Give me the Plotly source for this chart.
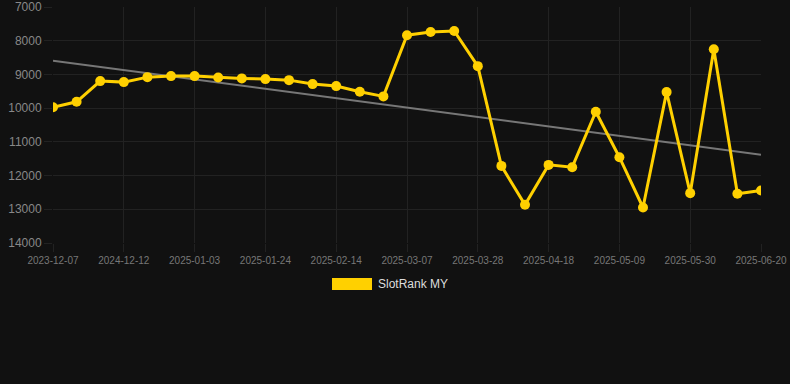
import numpy as np
import plotly.graph_objects as go

dates = ["2023-12-07", "2024-11-28", "2024-12-05", "2024-12-12", "2024-12-19", "2024-12-26",
         "2025-01-03", "2025-01-10", "2025-01-17", "2025-01-24", "2025-01-31", "2025-02-07",
         "2025-02-14", "2025-02-21", "2025-02-28", "2025-03-07", "2025-03-14", "2025-03-21",
         "2025-03-28", "2025-04-04", "2025-04-11", "2025-04-18", "2025-04-25", "2025-05-02",
         "2025-05-09", "2025-05-16", "2025-05-23", "2025-05-30", "2025-06-06", "2025-06-13",
         "2025-06-20"]
ranks = [9976, 9811, 9198, 9228, 9080, 9050, 9050, 9089, 9118, 9139, 9169, 9287,
         9346, 9515, 9651, 7837, 7740, 7710, 8754, 11713, 12867, 11683, 11751, 10107,
         11456, 12947, 9524, 12521, 8251, 12541, 12444]
tick_labels = dates[::3]
y_ticks = [7000, 8000, 9000, 10000, 11000, 12000, 13000, 14000]
series_name = "SlotRank MY"

idx = np.arange(len(ranks))
slope, intercept = np.polyfit(idx, ranks, 1)
trend = slope * idx + intercept

BG = "#111111"
GRID = "#222222"
GOLD = "#FFD000"

fig = go.Figure()
fig.add_trace(go.Scatter(x=idx, y=trend, mode="lines",
                         line=dict(color="#777777", width=2), showlegend=False,
                         hoverinfo="skip"))
fig.add_trace(go.Scatter(x=idx, y=ranks, mode="lines+markers", name=series_name,
                         line=dict(color=GOLD, width=3),
                         marker=dict(color=GOLD, size=10), showlegend=False))

fig.update_layout(
    width=790, height=384,
    paper_bgcolor=BG, plot_bgcolor=BG,
    margin=dict(l=53, r=29, t=7, b=141, autoexpand=False),
    font=dict(family="Liberation Sans, Arial, sans-serif"),
    showlegend=False,
    xaxis=dict(
        range=[0, len(ranks) - 1], automargin=False,
        tickmode="array", tickvals=idx[::3].tolist(), ticktext=tick_labels,
        showgrid=True, gridcolor=GRID, gridwidth=1,
        ticks="outside", ticklen=8, tickcolor=GRID,
        tickfont=dict(size=10, color="#777777"),
        zeroline=False, showline=False,
    ),
    yaxis=dict(
        range=[14000, 7000], automargin=False,
        tickmode="array", tickvals=y_ticks,
        ticktext=[str(v) for v in y_ticks],
        showgrid=True, gridcolor=GRID, gridwidth=1,
        ticks="outside", ticklen=8, tickcolor=GRID,
        tickfont=dict(size=12, color="#888888"),
        zeroline=False, showline=False,
    ),
)

# custom legend
fig.add_shape(type="rect", xref="paper", yref="paper",
              x0=(332 - 53) / 708, x1=(372 - 53) / 708,
              y0=(384 - 141 - 290) / 236, y1=(384 - 141 - 278) / 236,
              fillcolor=GOLD, line=dict(width=0))
fig.add_annotation(xref="paper", yref="paper", x=(376 - 53) / 708,
                   y=(384 - 141 - 284) / 236, text=series_name, showarrow=False,
                   xanchor="left", yanchor="middle",
                   font=dict(size=12, color="#dddddd"))

fig.write_html("out.html")
